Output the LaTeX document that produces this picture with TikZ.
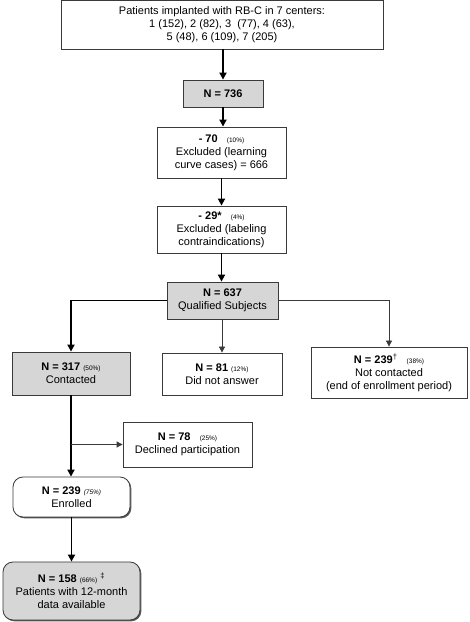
\documentclass[tikz,border=0pt]{standalone}
\usepackage{fontspec}
\setmainfont{Liberation Sans}
\usetikzlibrary{arrows.meta,shadows,positioning}
\definecolor{boxgray}{HTML}{D6D6D6}
\definecolor{edge}{HTML}{3A3A3A}
\newcommand{\pct}[1]{{\fontsize{6.5}{7}\selectfont #1}}
\begin{document}
\begin{tikzpicture}[x=1pt,y=1pt,
  box/.style={draw=edge,line width=0.8pt,fill=white,align=center,inner sep=1pt,
    font=\fontsize{11}{13}\selectfont,
    drop shadow={shadow xshift=1.3pt,shadow yshift=-1.3pt,fill=black!65,opacity=1}},
  graybox/.style={box,fill=boxgray},
  roundbox/.style={box,rounded corners=10pt},
  thick arrow/.style={line width=1.7pt,-{Triangle[width=7pt,length=7pt]}},
  thin arrow/.style={line width=0.8pt,draw=edge,-{Triangle[width=6pt,length=6pt]}},
]
\useasboundingbox (0,0) rectangle (470,622);
% nodes (x = px, y = 622 - px)
\node[box,minimum width=322pt,minimum height=49pt] (top) at (222,597.5)
  {Patients implanted with RB-C in 7 centers:\\1 (152), 2 (82), 3~ (77), 4 (63),\\5 (48), 6 (109), 7 (205)};
\node[graybox,minimum width=80pt,minimum height=27pt] (n736) at (223,528.5) {\textbf{N = 736}};
\node[box,minimum width=129pt,minimum height=51pt] (ex70) at (221.5,469.5)
  {\textbf{- 70}~~ \pct{(10\%)}\\Excluded (learning\\curve cases) = 666};
\node[box,minimum width=129pt,minimum height=47pt] (ex29) at (221.5,392.5)
  {\textbf{- 29*}~~ \pct{(4\%)}\\Excluded (labeling\\contraindications)};
\node[graybox,minimum width=111pt,minimum height=37pt] (n637) at (222.5,321.5)
  {\textbf{N = 637}\\Qualified Subjects};
\node[graybox,minimum width=118pt,minimum height=43pt] (n317) at (71,248.5)
  {\textbf{N = 317} \pct{(50\%)}\\Contacted};
\node[box,minimum width=120pt,minimum height=42pt] (n81) at (222,248)
  {\textbf{N = 81} \pct{(12\%)}\\Did not answer};
\node[box,minimum width=156pt,minimum height=51pt] (n239t) at (389,249.5)
  {\textbf{N = 239}\textsuperscript{†}~~ \pct{(38\%)}\\Not contacted\\(end of enrollment period)};
\node[box,minimum width=129pt,minimum height=45pt] (n78) at (187.5,177.5)
  {\textbf{N = 78}~~ \pct{(25\%)}\\Declined participation};
\node[roundbox,minimum width=117pt,minimum height=40pt] (n239) at (71.5,125)
  {\textbf{N = 239} \pct{\itshape (75\%)}\\Enrolled};
\node[roundbox,fill=boxgray,minimum width=137pt,minimum height=58pt] (n158) at (71.5,31)
  {\textbf{N = 158} \pct{(66\%)} \textsuperscript{‡}\\Patients with 12-month\\data available};
% connectors
\draw[thick arrow] (top.south -| n736.north) -- (n736.north);
\draw[thick arrow] (n736.south) -- (n736.south |- ex70.north);
\draw[thick arrow] (ex70.south) -- (ex29.north);
\draw[thick arrow] (ex29.south) -- (ex29.south |- n637.north);
\draw[thick arrow] (n637.west) -| (n317.north);
\draw[thin arrow] (n637.south -| n81.north) -- (n81.north);
\draw[thin arrow] (n637.east) -| (n239t.north);
\draw[thick arrow] (n317.south) -- (n239.north -| n317.south);
\coordinate (br) at (n317.south |- n78.west);
\draw[thin arrow] (br) -- (n78.west);
\draw[thick arrow] (n239.south) -- (n158.north);
\end{tikzpicture}
\end{document}
